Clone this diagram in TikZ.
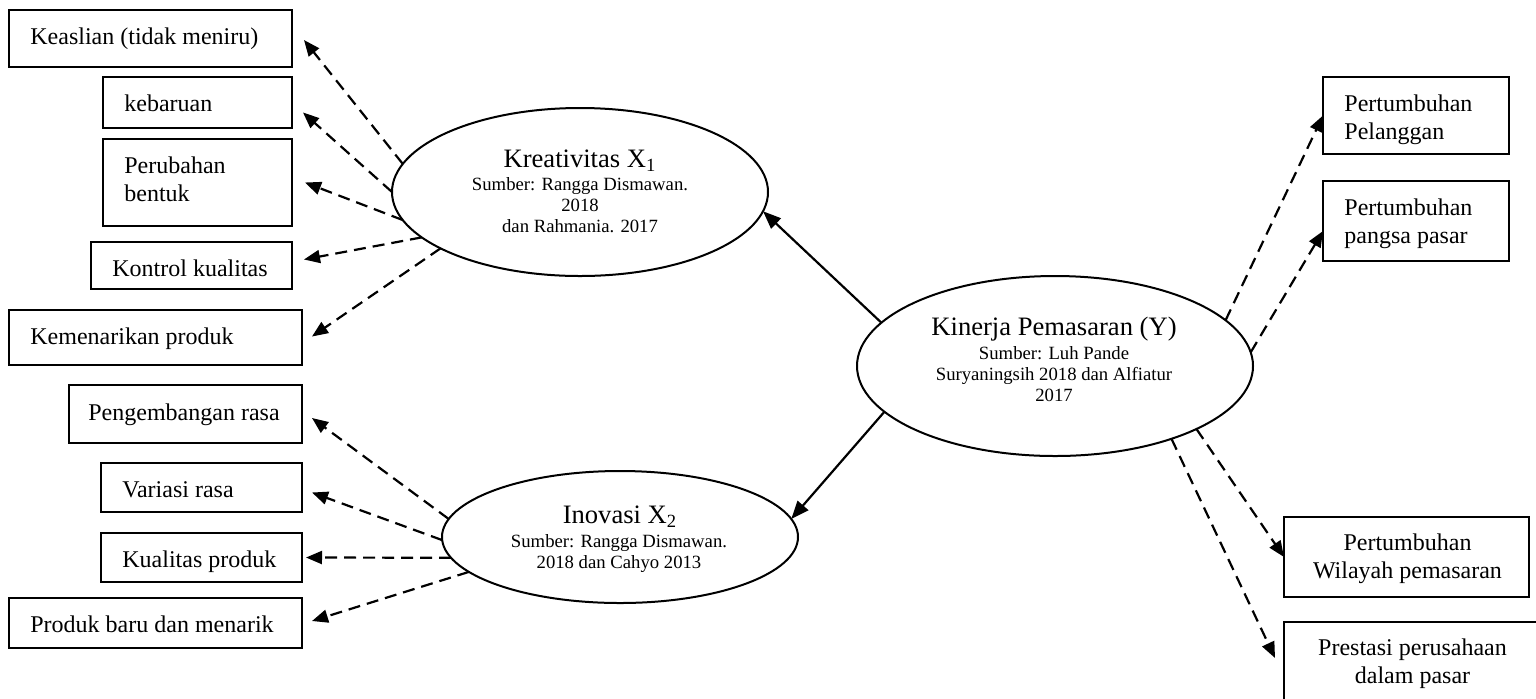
\documentclass[tikz,border=0pt]{standalone}
\usepackage{fontspec}
\setmainfont{Liberation Serif}
\usetikzlibrary{shapes.geometric,arrows.meta}
\tikzset{
  box/.style={draw, line width=1pt, rectangle, inner sep=0pt, outer sep=0pt, anchor=north west},
  oval/.style={draw, line width=1pt, ellipse, inner sep=0pt, outer sep=0pt},
  btxt/.style={inner sep=0pt, font=\fontsize{12}{14}\selectfont, align=left},
  ctxt/.style={inner sep=0pt, font=\fontsize{12}{14}\selectfont, align=center},
  ttl/.style={inner sep=0pt, font=\fontsize{13.3}{15}\selectfont, anchor=base},
  sub/.style={inner sep=0pt, font=\fontsize{9.35}{10.5}\selectfont, align=center, anchor=base},
  dasharrow/.style={line width=1.1pt, dash pattern=on 6pt off 3.5pt, -{Triangle[length=8pt,width=6.5pt]}},
  solidarrow/.style={line width=1.1pt, -{Triangle[length=9pt,width=7pt]}}
}
\begin{document}
\begin{tikzpicture}[x=0.5pt,y=-0.5pt]
\clip (0,0) rectangle (1536,698);
\fill[white] (0,0) rectangle (1536,698);

% left boxes (Kreativitas indicators)
\node[box, minimum width=283*0.5pt, minimum height=57*0.5pt] (kea) at (9,10) {};
\node[btxt, anchor=base west] at ([shift={(21,34)}]kea.north west) {Keaslian (tidak meniru)};
\node[box, minimum width=189*0.5pt, minimum height=51*0.5pt] (keb) at (103,77) {};
\node[btxt, anchor=base west] at ([shift={(21,34)}]keb.north west) {kebaruan};
\node[box, minimum width=189*0.5pt, minimum height=87*0.5pt] (per) at (103,139) {};
\node[btxt, anchor=base west] at ([shift={(21,62)}]per.north west) {Perubahan\\bentuk};
\node[box, minimum width=201*0.5pt, minimum height=47*0.5pt] (kon) at (91,242) {};
\node[btxt, anchor=base west] at ([shift={(21,34)}]kon.north west) {Kontrol kualitas};
\node[box, minimum width=293*0.5pt, minimum height=55*0.5pt] (kem) at (9,310) {};
\node[btxt, anchor=base west] at ([shift={(21,34)}]kem.north west) {Kemenarikan produk};

% left boxes (Inovasi indicators)
\node[box, minimum width=233*0.5pt, minimum height=58*0.5pt] (pen) at (69,385) {};
\node[btxt, anchor=base west] at ([shift={(19,35)}]pen.north west) {Pengembangan rasa};
\node[box, minimum width=201*0.5pt, minimum height=49*0.5pt] (var) at (101,463) {};
\node[btxt, anchor=base west] at ([shift={(21,34)}]var.north west) {Variasi rasa};
\node[box, minimum width=201*0.5pt, minimum height=49*0.5pt] (kua) at (101,533) {};
\node[btxt, anchor=base west] at ([shift={(21,34)}]kua.north west) {Kualitas produk};
\node[box, minimum width=293*0.5pt, minimum height=50*0.5pt] (pro) at (9,598) {};
\node[btxt, anchor=base west] at ([shift={(21,34)}]pro.north west) {Produk baru dan menarik};

% right boxes
\node[box, minimum width=186*0.5pt, minimum height=77*0.5pt] (pel) at (1323,77) {};
\node[btxt, anchor=base west] at ([shift={(21,62)}]pel.north west) {Pertumbuhan\\Pelanggan};
\node[box, minimum width=186*0.5pt, minimum height=80*0.5pt] (pan) at (1323,181) {};
\node[btxt, anchor=base west] at ([shift={(21,62)}]pan.north west) {Pertumbuhan\\pangsa pasar};
\node[box, minimum width=245*0.5pt, minimum height=80*0.5pt] (wil) at (1284,517) {};
\node[ctxt, anchor=base] at ([shift={(1,61)}]wil.north) {Pertumbuhan\\Wilayah pemasaran};
\node[box, minimum width=257*0.5pt, minimum height=103*0.5pt] (pre) at (1284,622) {};
\node[ctxt, anchor=base] at ([shift={(0,61)}]pre.north) {Prestasi perusahaan\\dalam pasar};

% ellipses
\node[oval, minimum width=376*0.5pt, minimum height=168*0.5pt] (kre) at (580,192) {};
\node[ttl] at (580,167) {Kreativitas X\textsubscript{1}};
\node[sub] at (580,232) {Sumber: Rangga Dismawan.\\2018\\dan Rahmania. 2017};

\node[oval, minimum width=356*0.5pt, minimum height=132*0.5pt] (ino) at (620,537) {};
\node[ttl] at (620,523) {Inovasi X\textsubscript{2}};
\node[sub] at (619,568) {Sumber: Rangga Dismawan.\\2018 dan Cahyo 2013};

\node[oval, minimum width=396*0.5pt, minimum height=180*0.5pt] (kin) at (1055,366) {};
\node[ttl] at (1054,335) {Kinerja Pemasaran (Y)};
\node[sub] at (1054,401) {Sumber: Luh Pande\\Suryaningsih 2018 dan Alfiatur\\2017};

% solid arrows
\draw[solidarrow] (kin.166) -- (kre.-6);
\draw[solidarrow] (kin.195) -- (ino.6);

% dashed arrows from Kreativitas
\draw[dasharrow] (kre.171) -- ([shift={(12,1.5)}]kea.east);
\draw[dasharrow] (kre.180) -- ([shift={(11,10)}]keb.east);
\draw[dasharrow] (kre.189) -- ([shift={(13,0)}]per.east);
\draw[dasharrow] (kre.196) -- ([shift={(12,-6)}]kon.east);
\draw[dasharrow] (kre.202) -- ([shift={(10,-1)}]kem.east);

% dashed arrows from Inovasi
\draw[dasharrow] (ino.174) -- ([shift={(10,4)}]pen.east);
\draw[dasharrow] (ino.181) -- ([shift={(10,5)}]var.east);
\draw[dasharrow] (ino.187) -- ([shift={(4,0)}]kua.east);
\draw[dasharrow] (ino.193) -- ([shift={(10,-2)}]pro.east);

% dashed arrows from Kinerja
\draw[dasharrow] (kin.15) -- (pel.west);
\draw[dasharrow] (kin.4) -- ([shift={(0,10)}]pan.west);
\draw[dasharrow] (kin.-24) -- (wil.west);
\draw[dasharrow] (kin.-32) -- ([shift={(-9,-15.5)}]pre.west);
\end{tikzpicture}
\end{document}
